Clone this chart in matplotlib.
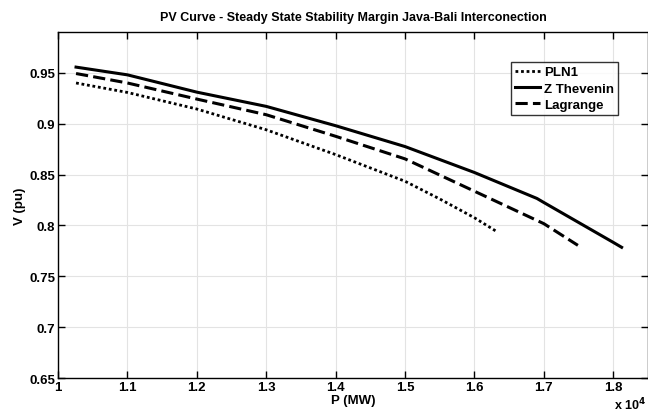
import matplotlib.pyplot as plt
from matplotlib.ticker import FuncFormatter, MultipleLocator

plt.rcParams['font.family'] = 'Liberation Sans'
plt.rcParams['font.weight'] = 'bold'

# P in MW, V in pu
p_pln1 = [10260, 11000, 12000, 13000, 14000, 15000, 15500, 16000, 16310]
v_pln1 = [0.940, 0.9307, 0.9144, 0.894, 0.8696, 0.8434, 0.826, 0.8075, 0.7944]

p_zth = [10260, 11000, 12000, 13000, 14000, 15000, 16000, 16900, 17000, 18000, 18120]
v_zth = [0.9556, 0.948, 0.931, 0.917, 0.898, 0.8775, 0.852, 0.8265, 0.8225, 0.7833, 0.7785]

p_lag = [10260, 11000, 12000, 13000, 14000, 15000, 16000, 17000, 17490]
v_lag = [0.9493, 0.940, 0.9242, 0.9088, 0.8876, 0.8654, 0.8336, 0.8017, 0.7804]

fig = plt.figure(figsize=(6.48, 4.14), dpi=100)
ax = fig.add_axes([0.0895, 0.0845, 0.9105, 0.8355])

ax.plot(p_pln1, v_pln1, color='black', linestyle=':', linewidth=2.0, dashes=(1, 1),
        label='PLN1')
ax.plot(p_zth, v_zth, color='black', linestyle='-', linewidth=2.2, label='Z Thevenin')
ax.plot(p_lag, v_lag, color='black', linestyle='--', linewidth=2.2, dashes=(4, 1.7),
        label='Lagrange')

ax.set_xlim(10000, 18500)
ax.set_ylim(0.65, 0.99)
ax.xaxis.set_major_locator(MultipleLocator(1000))
ax.yaxis.set_major_locator(MultipleLocator(0.05))
ax.xaxis.set_major_formatter(FuncFormatter(lambda v, pos: '%g' % round(v / 1e4, 2)))
ax.yaxis.set_major_formatter(FuncFormatter(lambda v, pos: '%g' % round(v, 2)))
ax.tick_params(direction='in', length=5, width=1, top=True, right=True,
               labelsize=9.5, pad=2)
for s in ax.spines.values():
    s.set_linewidth(1)
ax.grid(True, color='#e3e3e3', linewidth=0.8)
ax.set_axisbelow(True)

ax.set_title('PV Curve - Steady State Stability Margin Java-Bali Interconection',
             fontsize=9, fontweight='bold', pad=9)
ax.set_xlabel('P (MW)', fontsize=9.5, fontweight='bold', labelpad=1)
ax.set_ylabel('V (pu)', fontsize=9.5, fontweight='bold', labelpad=2)
fig.text(0.972, 0.01, r'x 10$^4$', fontsize=9, fontweight='bold', ha='center')

leg = ax.legend(loc='upper right', bbox_to_anchor=(0.949, 0.913), fontsize=9.5,
                frameon=True, fancybox=False, edgecolor='black', handlelength=1.9,
                handletextpad=0.3, borderpad=0.3, labelspacing=0.3, borderaxespad=0)
leg.get_frame().set_linewidth(1)

fig.savefig('out.png', dpi=100)
